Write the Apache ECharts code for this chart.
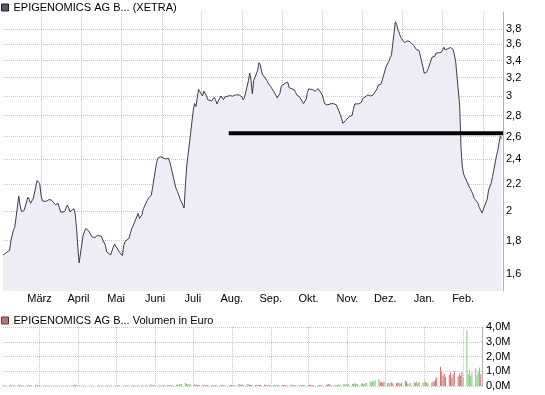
<!DOCTYPE html>
<html><head><meta charset="utf-8">
<script src="https://cdn.jsdelivr.net/npm/echarts@6/dist/echarts.min.js"></script>
<style>html,body{margin:0;padding:0;background:#fff}#c{width:545px;height:395px}</style>
</head><body><div id="c"></div>
<script>
const priceName = 'EPIGENOMICS AG B... (XETRA)';
const volumeName = 'EPIGENOMICS AG B... Volumen in Euro';
const firstDay = '2007-01-31';
const axisStart = '2007-01-31';
const axisEnd = '2008-02-16';
const prices = [
1.711,1.717,1.723,
1.739,1.798,1.836,1.870,1.886,
2.108,2.041,1.996,1.999,2.001,
2.098,2.081,2.054,2.056,2.087,
2.226,2.239,2.202,2.111,2.071,
2.068,2.082,2.081,2.067,2.077,
2.043,2.048,2.053,2.021,1.990,
1.995,2.018,2.041,2.023,1.993,
2.015,1.978,1.885,1.761,1.664,
1.831,1.857,1.879,1.874,1.866,
1.823,1.830,1.820,1.817,1.834,
1.828,1.804,1.795,1.772,1.730,
1.711,1.708,1.759,1.778,1.766,
1.725,1.715,1.707,1.769,1.794,
1.815,1.846,1.876,1.894,1.902,
1.982,1.947,1.941,1.975,2.016,
2.076,2.093,2.105,2.113,2.172,
2.370,2.409,2.420,2.421,2.414,
2.401,2.409,2.409,2.380,2.337,
2.199,2.160,2.141,2.112,2.084,
2.020,2.191,2.343,2.436,2.532,
2.854,2.921,2.891,2.977,3.071,
3.000,3.053,3.040,3.004,2.961,
2.947,2.961,2.986,2.959,2.917,
3.000,2.988,2.961,2.990,2.985,
3.004,3.003,2.997,3.011,3.011,
3.011,3.000,2.990,2.960,2.983,
3.166,3.254,3.171,3.022,3.165,
3.282,3.374,3.350,3.274,3.232,
3.170,3.141,3.124,3.100,3.081,
3.008,2.979,2.973,3.028,3.103,
3.138,3.143,3.150,3.090,3.071,
3.064,3.036,3.008,2.993,2.990,
2.920,2.908,2.965,3.040,3.075,
3.068,3.064,3.050,3.064,3.079,
3.020,2.976,2.921,2.906,2.906,
2.920,2.923,2.920,2.913,2.907,
2.811,2.773,2.724,2.706,2.751,
2.791,2.797,2.800,2.862,2.916,
2.918,2.907,2.932,2.970,2.979,
3.011,3.008,2.999,3.011,3.011,
3.076,3.119,3.112,3.127,3.174,
3.332,3.355,3.390,3.432,3.463,
3.900,3.860,3.785,3.747,3.690,
3.621,3.625,3.643,3.652,3.635,
3.584,3.565,3.534,3.547,3.523,
3.323,3.250,3.264,3.268,3.305,
3.441,3.430,3.452,3.489,3.473,
3.499,3.530,3.564,3.529,3.534,
3.561,3.559,3.534,3.467,3.376,
2.896,2.496,2.335,2.278,2.252,
2.183,2.165,2.143,2.122,2.091,
2.055,2.022,2.004,1.985,1.990,
2.085,2.154,2.160,2.204,2.257,
2.426,2.476,2.545,2.601,2.581
];
// volume in millions of euro
const volumes = [
0.04,0.06,0.03,
0.05,0.08,0.06,0.04,0.07,
0.09,0.05,0.04,0.03,0.05,
0.04,0.06,0.03,0.05,0.04,
0.08,0.06,0.05,0.04,0.03,
0.03,0.02,0.04,0.03,0.02,
0.02,0.03,0.02,0.04,0.02,
0.03,0.02,0.02,0.03,0.02,
0.02,0.03,0.05,0.07,0.09,
0.05,0.03,0.02,0.03,0.02,
0.02,0.02,0.03,0.02,0.02,
0.02,0.03,0.02,0.02,0.03,
0.04,0.03,0.05,0.02,0.03,
0.03,0.02,0.04,0.05,0.03,
0.03,0.04,0.05,0.04,0.03,
0.05,0.04,0.03,0.04,0.06,
0.04,0.05,0.04,0.05,0.07,
0.12,0.08,0.06,0.05,0.04,
0.04,0.03,0.04,0.05,0.06,
0.05,0.06,0.04,0.05,0.04,
0.06,0.10,0.14,0.12,0.16,
0.22,0.15,0.12,0.10,0.14,
0.12,0.10,0.08,0.09,0.07,
0.06,0.08,0.05,0.07,0.06,
0.05,0.06,0.04,0.07,0.05,
0.04,0.06,0.08,0.05,0.04,
0.06,0.05,0.07,0.04,0.06,
0.10,0.12,0.09,0.08,0.10,
0.12,0.14,0.09,0.07,0.06,
0.06,0.08,0.05,0.07,0.06,
0.08,0.06,0.05,0.09,0.07,
0.06,0.07,0.08,0.05,0.06,
0.05,0.07,0.06,0.04,0.05,
0.08,0.06,0.09,0.07,0.06,
0.05,0.06,0.07,0.05,0.06,
0.06,0.08,0.09,0.07,0.05,
0.05,0.04,0.06,0.05,0.04,
0.09,0.11,0.13,0.10,0.08,
0.07,0.06,0.08,0.10,0.09,
0.12,0.10,0.14,0.11,0.13,
0.15,0.12,0.18,0.14,0.12,
0.16,0.20,0.14,0.18,0.22,
0.30,0.25,0.35,0.28,0.40,
0.45,0.30,0.25,0.22,0.28,
0.20,0.18,0.22,0.25,0.19,
0.18,0.24,0.20,0.16,0.22,
0.35,0.28,0.15,0.12,0.20,
0.25,0.22,0.30,0.18,0.26,
0.20,0.24,0.30,0.22,0.18,
0.25,0.30,0.28,0.45,0.60,
1.30,0.95,0.70,0.85,0.60,
0.75,0.90,0.55,0.80,1.00,
0.65,0.85,0.70,0.95,0.60,
3.80,0.80,1.10,0.70,0.90,
1.20,0.75,0.95,1.25,0.80
];
const monthTicks = ['2007-03-01','2007-04-01','2007-05-01','2007-06-01','2007-07-01','2007-08-01','2007-09-01','2007-10-01','2007-11-01','2007-12-01','2008-01-01','2008-02-01'];
const monthNames = ['Jan.','Feb.','März','April','Mai','Juni','Juli','Aug.','Sep.','Okt.','Nov.','Dez.'];
const priceTicks = [1.6,1.8,2,2.2,2.4,2.6,2.8,3,3.2,3.4,3.6,3.8];
const priceMin = 1.507, priceMax = 4.035;
const volumeTicks = [0,1,2,3,4];
const trendStart = '2007-07-22', trendEnd = '2008-02-16', trendValue = 2.63;

const ts = s => { const p = s.split('-').map(Number); return Date.UTC(p[0], p[1] - 1, p[2]); };
// trading days (Mon-Fri) starting at firstDay
const dates = [];
for (let t = ts(firstDay); dates.length < prices.length; t += 86400000) {
  const wd = new Date(t).getUTCDay();
  if (wd !== 0 && wd !== 6) dates.push(t);
}
const monthTickTs = monthTicks.map(ts);
const priceData = prices.map((v, i) => [dates[i], v]);
const volumeData = volumes.map((v, i) => ({
  value: [dates[i], v],
  itemStyle: { color: (i > 0 && prices[i] < prices[i-1]) ? '#d07070' : '#80c880' }
}));

const comma = v => String(v).replace('.', ',');
const gridLine = { show: true, lineStyle: { color: '#c8c8c8', type: [1, 1], width: 1 } };
const font = 'Liberation Sans, Arial, sans-serif';

const chart = echarts.init(document.getElementById('c'), null, { renderer: 'canvas' });
chart.setOption({
  animation: false,
  textStyle: { fontFamily: font },
  legend: [
    { left: 1, top: 2, padding: 0, itemWidth: 7, itemHeight: 7, itemGap: 4, selectedMode: false,
      textStyle: { fontSize: 11, color: '#000', fontFamily: font },
      data: [{ name: priceName, icon: 'rect', itemStyle: { color: '#55586a', borderColor: '#222', borderWidth: 1 } }] },
    { left: 1, top: 315, padding: 0, itemWidth: 7, itemHeight: 7, itemGap: 4, selectedMode: false,
      textStyle: { fontSize: 11, color: '#000', fontFamily: font },
      data: [{ name: volumeName, icon: 'rect', itemStyle: { color: '#c87070', borderColor: '#444', borderWidth: 1 } }] }
  ],
  grid: [
    { left: 3, top: 12, width: 500, height: 279 },
    { left: 3, top: 327, width: 479, height: 59 }
  ],
  xAxis: [
    { type: 'value', gridIndex: 0, min: ts(axisStart), max: ts(axisEnd),
      axisLine: { show: false }, axisLabel: { show: false },
      axisTick: { show: false, customValues: monthTickTs },
      splitLine: gridLine },
    { type: 'value', gridIndex: 1, min: ts(axisStart), max: ts(axisEnd), position: 'top',
      axisLine: { show: false },
      axisTick: { show: false, customValues: monthTickTs },
      axisLabel: { customValues: monthTickTs, margin: 23, fontSize: 11, color: '#000', fontFamily: font,
        formatter: v => monthNames[new Date(v).getUTCMonth()] },
      splitLine: gridLine }
  ],
  yAxis: [
    { type: 'log', gridIndex: 0, position: 'right', min: priceMin, max: priceMax,
      axisLine: { show: true, lineStyle: { color: '#b0b0b0' } },
      axisTick: { show: false, customValues: priceTicks },
      axisLabel: { customValues: priceTicks, margin: 3, fontSize: 11, color: '#000', fontFamily: font, formatter: v => comma(v) },
      splitLine: gridLine },
    { type: 'value', gridIndex: 1, position: 'right', min: 0, max: 4, interval: 1,
      axisLine: { show: true, lineStyle: { color: '#b0b0b0' } },
      axisTick: { show: false },
      axisLabel: { margin: 4, fontSize: 11, color: '#000', fontFamily: font, formatter: v => comma(v.toFixed(1)) + 'M' },
      splitLine: gridLine }
  ],
  series: [
    { name: priceName, type: 'line', xAxisIndex: 0, yAxisIndex: 0, data: priceData,
      showSymbol: false, color: '#55586a',
      lineStyle: { color: '#3a3c4c', width: 1 },
      areaStyle: { color: '#ecedf5', opacity: 1, origin: 'start' } },
    { name: 'trend', type: 'line', xAxisIndex: 0, yAxisIndex: 0,
      data: [[ts(trendStart), trendValue], [ts(trendEnd), trendValue]],
      showSymbol: false, lineStyle: { color: '#000', width: 4 }, z: 5 },
    { name: volumeName, type: 'bar', xAxisIndex: 1, yAxisIndex: 1, data: volumeData,
      barWidth: 1, color: '#c87070' }
  ]
});
</script></body></html>
